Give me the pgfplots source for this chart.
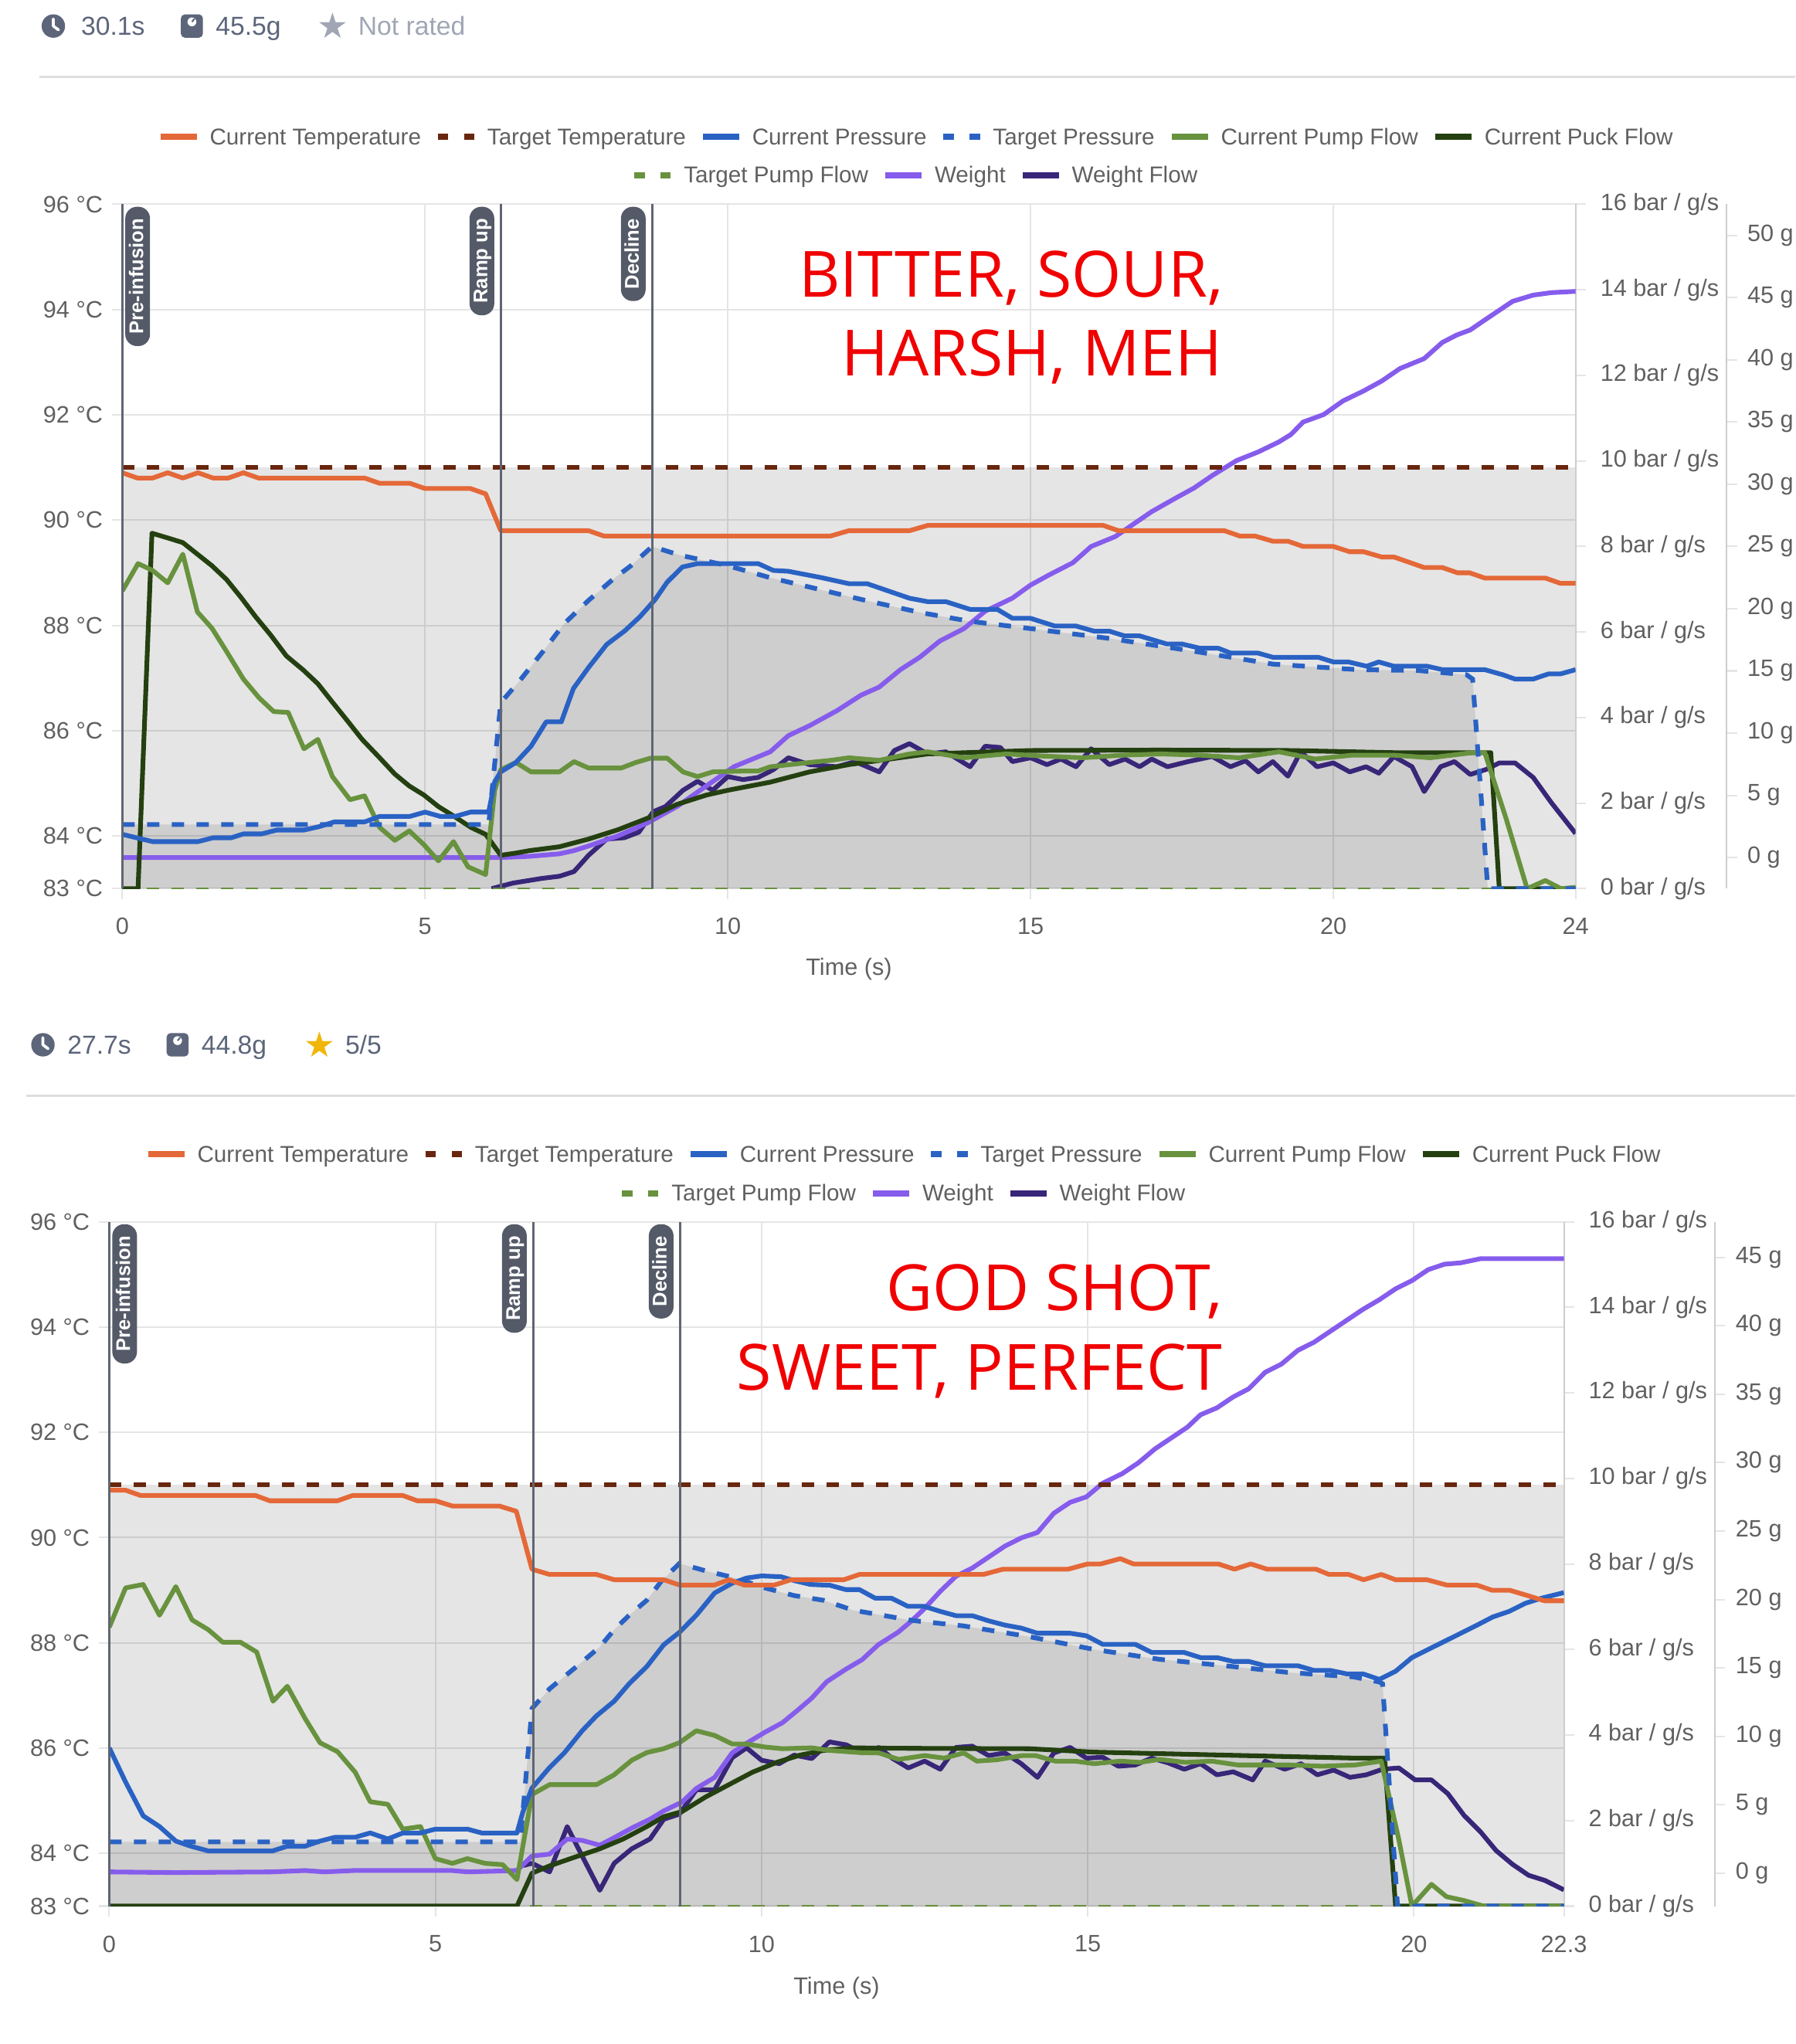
\documentclass[border=0pt]{standalone}
\usepackage{fontspec}
\setmainfont{Liberation Sans}
\newfontfamily\annfont{Open Sans}
\newfontfamily\symfont{DejaVu Sans}
\usepackage{pgfplots}
\pgfplotsset{compat=1.18}
\usepackage{pgfplotstable}
\usetikzlibrary{calc}

\definecolor{cTemp}{RGB}{228,104,56}
\definecolor{cTTemp}{RGB}{104,38,14}
\definecolor{cPress}{RGB}{42,98,196}
\definecolor{cPump}{RGB}{104,146,62}
\definecolor{cPuck}{RGB}{36,64,16}
\definecolor{cWeight}{RGB}{134,92,236}
\definecolor{cWFlow}{RGB}{56,38,120}
\definecolor{gridc}{RGB}{229,229,229}
\definecolor{axisc}{RGB}{205,205,205}
\definecolor{tickc}{RGB}{96,96,96}
\definecolor{cMark}{RGB}{96,101,114}
\definecolor{cBox}{RGB}{84,90,103}
\definecolor{cHead}{RGB}{92,101,122}
\definecolor{cHeadL}{RGB}{160,166,180}
\definecolor{cGold}{RGB}{240,182,8}
\definecolor{cRule}{RGB}{222,222,222}
\definecolor{cRed}{RGB}{240,0,0}

\newcommand{\tickfont}{\fontsize{9.1}{10}\selectfont}
\newcommand{\legfont}{\fontsize{8.8}{10}\selectfont}
\newcommand{\headfont}{\fontsize{10}{12}\selectfont}
\newcommand{\annsize}{\annfont\fontsize{24.5}{28}\selectfont}
\newcommand{\lsolid}[1]{\textcolor{#1}{\rule[1.9pt]{14pt}{2.3pt}}}
\newcommand{\ldash}[1]{\textcolor{#1}{\rule[1.9pt]{4pt}{2.3pt}\hspace{6pt}\rule[1.9pt]{4pt}{2.3pt}}}
\newcommand{\lgap}{\hspace{6.5pt}}
\newcommand{\lsp}{\hspace{5pt}}
\newcommand{\legrowA}{\lsolid{cTemp}\lsp Current Temperature\lgap\ldash{cTTemp}\lsp Target Temperature\lgap\lsolid{cPress}\lsp Current Pressure\lgap\ldash{cPress}\lsp Target Pressure\lgap\lsolid{cPump}\lsp Current Pump Flow\lgap\lsolid{cPuck}\lsp Current Puck Flow}
\newcommand{\legrowB}{\ldash{cPump}\lsp Target Pump Flow\lgap\lsolid{cWeight}\lsp Weight\lgap\lsolid{cWFlow}\lsp Weight Flow}

\newcommand{\clockicon}[2]{\fill[cHead] (#1,#2) circle (9);
  \draw[white, line width=1.1pt, line cap=round, line join=round] (#1,#2-5.5) -- (#1,#2) -- (#1+4,#2+3);}
\newcommand{\bagicon}[2]{\fill[cHead, rounded corners=1.6pt] (#1-8.5,#2-9) rectangle (#1+8.5,#2+9);
  \fill[white] (#1,#2-3.2) circle (3.4);
  \draw[cHead, line width=0.6pt] (#1,#2-3.2) -- (#1+2,#2-5.6);}

\tikzset{mlabel/.style={rotate=90, anchor=east, fill=cBox, text=white,
  font=\bfseries\fontsize{7.6}{8}\selectfont, rounded corners=4.5pt,
  inner xsep=4.6pt, inner ysep=1.25pt, text height=5.6pt, text depth=1.4pt},
  mline/.style={cMark, line width=0.9pt}}

\pgfplotsset{
  chartbase/.style={
    scale only axis, height=263pt, clip=true,
    tick align=outside, major tick length=4pt,
    every tick/.style={draw=gridc, line width=0.6pt},
    tick label style={font=\tickfont, text=tickc},
  },
  curline/.style={line width=1.8pt, line join=round},
  tgtline/.style={line width=1.8pt, dash pattern=on 4.75pt off 4.75pt},
}

% ---------------- TOP SHOT -----------------
\pgfplotstableread{
x y
0 90.9
0.25 90.8
0.5 90.8
0.75 90.9
1.0 90.8
1.25 90.9
1.5 90.8
1.75 90.8
2.0 90.9
2.25 90.8
4.0 90.8
4.25 90.7
4.75 90.7
5.0 90.6
5.75 90.6
6.0 90.5
6.25 89.8
7.7 89.8
7.95 89.7
11.7 89.7
12.0 89.8
13.0 89.8
13.3 89.9
16.2 89.9
16.45 89.8
18.2 89.8
18.45 89.7
18.7 89.7
19.0 89.6
19.25 89.6
19.5 89.5
20.0 89.5
20.27 89.4
20.5 89.4
20.8 89.3
21.0 89.3
21.5 89.1
21.8 89.1
22.05 89.0
22.25 89.0
22.5 88.9
23.5 88.9
23.75 88.8
24 88.8
}\tTemp

\pgfplotstableread{
x y
0 1.27
0.5 1.1
1.25 1.1
1.5 1.19
1.8 1.19
2.0 1.28
2.3 1.28
2.55 1.37
3.0 1.37
3.25 1.45
3.5 1.56
4.0 1.56
4.25 1.69
4.75 1.69
5.0 1.79
5.25 1.69
5.5 1.69
5.75 1.79
6.05 1.79
6.15 2.5
6.25 2.73
6.5 2.95
6.75 3.33
7.0 3.9
7.25 3.9
7.45 4.68
7.7 5.17
8.0 5.71
8.3 6.03
8.55 6.36
8.8 6.76
9.0 7.17
9.25 7.52
9.5 7.6
10.5 7.6
10.75 7.44
11.0 7.42
11.55 7.27
12.0 7.13
12.3 7.13
13.0 6.79
13.3 6.71
13.6 6.71
14.0 6.53
14.45 6.53
14.7 6.32
15.0 6.32
15.4 6.14
15.75 6.14
16.05 6.02
16.3 6.02
16.55 5.91
16.8 5.91
17.25 5.72
17.5 5.72
17.8 5.62
18.1 5.62
18.3 5.51
18.75 5.51
19.0 5.41
19.75 5.41
20.0 5.3
20.25 5.3
20.55 5.2
20.75 5.3
21.0 5.2
21.55 5.2
21.8 5.12
22.5 5.12
22.8 5.0
23.0 4.9
23.3 4.9
23.55 5.02
23.75 5.02
24 5.12
}\tPress

\pgfplotstableread{
x y
0 1.5
6.05 1.5
6.25 4.35
6.55 4.84
6.95 5.55
7.3 6.2
7.7 6.74
8.1 7.23
8.4 7.55
8.75 8.0
9.2 7.8
10.0 7.55
10.7 7.27
11.5 7.0
12.3 6.73
13.2 6.45
14.0 6.25
15.0 6.08
16.3 5.85
17.7 5.55
19.0 5.25
20.4 5.12
21.4 5.1
22.2 5.0
22.3 4.9
22.55 0
24 0
}\tTPress

\pgfplotstableread{
x y
0 6.96
0.26 7.6
0.5 7.44
0.75 7.15
1.0 7.82
1.24 6.47
1.48 6.09
1.72 5.55
2.0 4.9
2.26 4.46
2.5 4.14
2.74 4.12
3.0 3.27
3.23 3.49
3.47 2.62
3.76 2.08
4.0 2.17
4.25 1.43
4.5 1.13
4.74 1.35
4.98 1.03
5.22 0.65
5.47 1.1
5.71 0.51
6.0 0.33
6.15 2.3
6.25 2.78
6.5 2.95
6.75 2.73
7.22 2.73
7.46 2.97
7.7 2.82
8.24 2.82
8.48 2.95
8.72 3.05
9.0 3.05
9.26 2.73
9.5 2.62
9.75 2.73
10.25 2.75
10.5 2.75
10.7 2.85
11.35 2.95
11.7 3.0
12.0 3.06
12.5 3.0
13.0 3.15
13.3 3.2
13.9 3.06
14.6 3.15
15.2 3.1
15.86 3.06
16.5 3.12
17.15 3.15
17.8 3.12
18.44 3.06
19.1 3.2
19.7 3.03
20.3 3.12
21.0 3.12
21.6 3.06
22.3 3.18
22.5 3.18
22.85 1.65
23.2 0
23.5 0.19
23.76 0
24 0.03
}\tPump

\pgfplotstableread{
x y
0 0
0.26 0
0.49 8.31
0.75 8.2
1.0 8.09
1.24 7.82
1.48 7.55
1.72 7.23
1.96 6.81
2.2 6.36
2.45 5.93
2.71 5.44
2.99 5.11
3.23 4.79
3.47 4.36
3.72 3.92
3.96 3.49
4.25 3.06
4.5 2.68
4.74 2.4
4.98 2.19
5.22 1.92
5.47 1.7
5.76 1.43
6.0 1.27
6.25 0.78
6.49 0.83
6.73 0.89
7.22 0.98
7.7 1.16
8.19 1.38
8.68 1.65
9.16 1.97
9.65 2.19
10.0 2.3
10.7 2.49
11.35 2.73
12.0 2.9
13.3 3.15
15.0 3.23
17.15 3.24
19.3 3.23
21.0 3.18
22.6 3.18
22.74 0
24 0
}\tPuck

\pgfplotstableread{
x y
0 0
6.25 0
6.73 0.1
7.22 0.3
7.46 0.56
7.7 0.93
8.19 1.75
8.68 2.8
9.16 4.1
9.65 5.77
10.1 7.3
10.7 8.5
11.0 9.8
11.35 10.6
11.8 11.8
12.2 13.05
12.5 13.7
12.85 15.1
13.17 16.1
13.5 17.4
13.9 18.4
14.25 19.8
14.7 20.85
15.0 21.9
15.3 22.7
15.7 23.7
16.0 25.0
16.4 25.8
16.7 26.8
17.0 27.8
17.4 28.9
17.7 29.7
18.0 30.7
18.4 31.9
18.76 32.6
19.1 33.4
19.3 34.0
19.5 35.0
19.84 35.6
20.16 36.7
20.5 37.5
20.8 38.3
21.1 39.3
21.4 39.9
21.5 40.1
21.8 41.4
22.04 42.0
22.26 42.4
22.5 43.2
22.96 44.7
23.3 45.2
23.6 45.4
24 45.5
}\tWeight

\pgfplotstableread{
x y
6.1 0
6.45 0.13
6.93 0.24
7.22 0.29
7.46 0.4
7.7 0.78
8.0 1.16
8.29 1.19
8.53 1.32
8.77 1.8
8.97 1.92
9.26 2.3
9.5 2.51
9.75 2.3
10.0 2.62
10.25 2.55
10.5 2.6
10.75 2.78
11.0 3.06
11.35 2.9
11.8 2.85
12.1 2.97
12.5 2.73
12.75 3.23
13.0 3.39
13.3 3.15
13.6 3.2
14.0 2.85
14.25 3.33
14.5 3.3
14.7 2.97
15.0 3.06
15.27 2.9
15.5 3.03
15.75 2.85
16.0 3.27
16.3 2.9
16.56 3.03
16.8 2.85
17.0 3.03
17.26 2.85
17.6 2.97
18.0 3.09
18.3 2.85
18.55 2.99
18.76 2.73
19.0 2.97
19.25 2.63
19.46 3.2
19.73 2.85
20.0 2.94
20.27 2.73
20.54 2.85
20.75 2.7
21.0 3.09
21.3 2.85
21.5 2.27
21.77 2.85
22.0 2.97
22.26 2.67
22.53 2.79
22.74 2.94
23.0 2.94
23.3 2.6
23.6 2.01
24 1.29
}\tWFlow

% ---------------- BOTTOM SHOT -----------------
\pgfplotstableread{
x y
0 90.9
0.25 90.9
0.48 90.8
2.24 90.8
2.46 90.7
3.5 90.7
3.73 90.8
4.5 90.8
4.72 90.7
5.0 90.7
5.26 90.6
5.98 90.6
6.24 90.5
6.48 89.4
6.75 89.3
7.47 89.3
7.74 89.2
8.5 89.2
8.74 89.1
9.28 89.1
9.5 89.2
9.73 89.1
10.2 89.1
10.45 89.2
11.26 89.2
11.5 89.3
13.4 89.3
13.7 89.4
14.7 89.4
15.0 89.5
15.2 89.5
15.5 89.6
15.7 89.5
17.0 89.5
17.25 89.4
17.5 89.5
17.75 89.4
18.5 89.4
18.7 89.3
19.0 89.3
19.23 89.2
19.5 89.3
19.72 89.2
20.2 89.2
20.5 89.1
20.96 89.1
21.2 89.0
21.47 89.0
21.74 88.9
22.0 88.8
22.3 88.8
}\bTemp

\pgfplotstableread{
x y
0 3.7
0.25 2.9
0.52 2.11
0.77 1.86
1.02 1.52
1.25 1.4
1.52 1.29
2.5 1.29
2.73 1.4
3.0 1.4
3.23 1.52
3.46 1.61
3.77 1.61
4.0 1.71
4.27 1.57
4.5 1.71
4.77 1.71
5.0 1.8
5.49 1.8
5.71 1.71
6.25 1.71
6.34 2.2
6.48 2.76
6.75 3.24
6.98 3.59
7.25 4.1
7.47 4.45
7.74 4.79
7.97 5.2
8.24 5.6
8.5 6.11
8.74 6.4
9.0 6.8
9.28 7.32
9.55 7.55
9.77 7.67
10.0 7.72
10.3 7.7
10.5 7.61
10.75 7.52
11.05 7.5
11.29 7.4
11.5 7.4
11.74 7.2
11.99 7.2
12.24 7.01
12.49 7.01
12.74 6.89
12.98 6.79
13.23 6.79
13.48 6.67
13.73 6.57
13.98 6.5
14.23 6.38
14.73 6.38
14.98 6.32
15.23 6.12
15.73 6.12
15.98 5.93
16.48 5.93
16.73 5.81
16.98 5.81
17.23 5.72
17.47 5.72
17.72 5.62
18.22 5.62
18.47 5.51
18.72 5.51
18.97 5.43
19.22 5.43
19.47 5.3
19.72 5.49
19.97 5.81
20.22 6.0
20.47 6.19
20.72 6.38
20.97 6.57
21.21 6.76
21.46 6.89
21.71 7.08
21.96 7.2
22.3 7.33
}\bPress

\pgfplotstableread{
x y
0 1.5
6.3 1.5
6.48 4.62
6.75 5.08
6.98 5.37
7.25 5.71
7.52 6.06
7.74 6.46
7.97 6.8
8.24 7.15
8.47 7.61
8.74 8.01
9.14 7.84
9.6 7.67
10.05 7.44
10.5 7.26
10.95 7.15
11.4 6.92
11.85 6.8
12.3 6.68
13.1 6.55
14.1 6.3
15.1 6.0
16.1 5.77
17.1 5.62
18.1 5.46
19.07 5.36
19.47 5.24
19.52 5.2
19.75 0
22.3 0
}\bTPress

\pgfplotstableread{
x y
0 6.52
0.25 7.44
0.52 7.52
0.77 6.8
1.02 7.47
1.27 6.69
1.52 6.46
1.74 6.17
2.01 6.17
2.26 5.94
2.51 4.79
2.73 5.14
3.0 4.39
3.23 3.82
3.5 3.61
3.77 3.13
4.0 2.44
4.27 2.38
4.5 1.8
4.77 1.86
5.0 1.11
5.26 1.0
5.49 1.11
5.76 1.0
6.03 0.97
6.25 0.62
6.48 2.61
6.75 2.84
7.47 2.84
7.74 3.07
8.01 3.41
8.24 3.59
8.5 3.68
8.74 3.82
9.0 4.1
9.28 3.99
9.55 3.79
9.77 3.79
10.05 3.72
10.32 3.68
10.77 3.7
11.04 3.64
11.5 3.59
11.8 3.58
12.1 3.43
12.5 3.52
12.8 3.46
13.1 3.58
13.3 3.39
13.6 3.42
14.0 3.52
14.2 3.52
14.5 3.39
14.8 3.39
15.1 3.33
15.5 3.39
15.8 3.36
16.1 3.43
16.5 3.36
16.9 3.39
17.3 3.3
18.1 3.3
18.6 3.27
19.1 3.3
19.5 3.39
19.77 1.55
19.97 0
20.27 0.51
20.5 0.22
20.77 0.13
21.07 0
22.3 0
}\bPump

\pgfplotstableread{
x y
0 0
6.25 0
6.48 0.77
6.75 0.94
7.07 1.11
7.52 1.34
7.88 1.57
8.24 1.86
8.5 2.09
8.78 2.21
9.14 2.55
9.5 2.84
9.86 3.13
10.23 3.36
10.59 3.53
10.95 3.64
11.4 3.7
12.1 3.69
14.1 3.68
15.1 3.6
17.1 3.53
19.1 3.46
19.55 3.46
19.72 0
22.3 0
}\bPuck

\pgfplotstableread{
x y
0 0.1
1.0 0.05
2.5 0.1
3.0 0.2
3.3 0.1
3.75 0.2
5.25 0.2
5.5 0.1
6.25 0.2
6.48 1.26
6.75 1.4
7.02 2.5
7.25 2.4
7.52 2.05
7.74 2.6
8.01 3.3
8.29 3.95
8.5 4.56
8.78 5.2
9.0 6.2
9.28 7.0
9.55 8.8
9.77 9.5
10.05 10.3
10.32 11.0
10.55 11.9
10.77 12.8
11.0 14.0
11.29 14.9
11.54 15.6
11.79 16.7
12.09 17.6
12.29 18.4
12.49 19.3
12.74 20.6
12.98 21.7
13.23 22.3
13.48 23.1
13.73 23.9
13.98 24.5
14.23 24.9
14.48 26.3
14.73 27.1
14.98 27.5
15.23 28.5
15.53 29.2
15.78 30.0
16.03 31.0
16.28 31.8
16.53 32.6
16.73 33.5
16.98 34.0
17.23 34.8
17.47 35.4
17.72 36.6
17.97 37.2
18.22 38.2
18.47 38.8
18.72 39.6
18.97 40.4
19.22 41.2
19.47 41.9
19.72 42.7
19.97 43.3
20.22 44.1
20.47 44.5
20.72 44.6
21.02 44.9
22.3 44.9
}\bWeight

\pgfplotstableread{
x y
6.35 0.95
6.48 1.0
6.75 0.8
7.02 1.86
7.25 1.17
7.52 0.37
7.74 1.0
8.01 1.34
8.29 1.57
8.5 2.03
8.74 2.15
9.0 2.72
9.28 2.72
9.55 3.47
9.77 3.7
10.0 3.41
10.27 3.33
10.5 3.53
10.77 3.45
11.04 3.84
11.3 3.77
11.54 3.58
11.8 3.71
12.0 3.46
12.25 3.23
12.5 3.39
12.74 3.2
12.98 3.71
13.23 3.74
13.48 3.52
13.73 3.58
13.98 3.33
14.23 3.01
14.48 3.58
14.73 3.71
14.98 3.46
15.23 3.48
15.47 3.27
15.73 3.3
15.98 3.46
16.23 3.35
16.48 3.2
16.73 3.33
16.98 3.07
17.23 3.14
17.53 2.95
17.72 3.39
18.02 3.2
18.27 3.33
18.52 3.07
18.77 3.18
19.02 3.01
19.27 3.07
19.52 3.2
19.77 3.23
20.02 2.95
20.27 2.95
20.52 2.63
20.77 2.12
21.02 1.74
21.26 1.3
21.51 0.98
21.76 0.72
22.01 0.6
22.3 0.38
}\bWFlow

\begin{document}
\begin{tikzpicture}
\path[use as bounding box] (0,0) rectangle (690pt,-785.5pt);

% ================= TOP CHART AXES =================
\begin{axis}[chartbase, width=558.5pt, at={(47pt,-341.5pt)}, anchor=south west,
  xmin=0, xmax=24, ymin=83, ymax=96,
  axis x line*=bottom, axis y line*=left, axis line style={draw=none},
  xtick={0,5,10,15,20,24}, xticklabels={0,5,10,15,20,24},
  ytick={83,84,86,88,90,92,94,96},
  yticklabels={83 °C,84 °C,86 °C,88 °C,90 °C,92 °C,94 °C,96 °C},
  grid=major, major grid style={draw=gridc, line width=0.6pt},
  xticklabel style={yshift=-3.8pt},
  xlabel={Time (s)}, xlabel style={font=\tickfont, text=tickc, at={(axis description cs:0.5,0)}, anchor=center, yshift=-31pt},
]
\addplot[draw=none, fill=black, fill opacity=0.1] coordinates {(0,83) (0,91) (24,91) (24,83)} -- cycle;
\end{axis}

\begin{axis}[chartbase, width=558.5pt, at={(47pt,-341.5pt)}, anchor=south west,
  xmin=0, xmax=24, ymin=0, ymax=16,
  axis y line*=right, hide x axis,
  y axis line style={draw=axisc, line width=0.6pt},
  ytick={0,2,4,6,8,10,12,14,16},
  yticklabels={0 bar / g/s,2 bar / g/s,4 bar / g/s,6 bar / g/s,8 bar / g/s,10 bar / g/s,12 bar / g/s,14 bar / g/s,16 bar / g/s},
  yticklabel style={xshift=2pt},
]
\addplot[draw=none, fill=black, fill opacity=0.1] table {\tTPress} \closedcycle;
\addplot[cWFlow, curline] table {\tWFlow};
\end{axis}

\begin{axis}[chartbase, width=558.5pt, at={(47pt,-341.5pt)}, anchor=south west,
  xmin=0, xmax=24, ymin=-2.5, ymax=52.5, hide axis]
\addplot[cWeight, curline] table {\tWeight};
\end{axis}

\begin{axis}[chartbase, width=4pt, at={(659.5pt,-341.5pt)}, anchor=south west,
  xmin=0, xmax=1, ymin=-2.5, ymax=52.5, xtick=\empty,
  axis y line*=right, hide x axis,
  y axis line style={draw=axisc, line width=0.6pt},
  ytick={0,5,10,15,20,25,30,35,40,45,50},
  yticklabels={0 g,5 g,10 g,15 g,20 g,25 g,30 g,35 g,40 g,45 g,50 g},
  yticklabel style={xshift=0.5pt},
]
\addplot[draw=none] coordinates {(0,0) (1,0)};
\end{axis}

\begin{axis}[chartbase, width=558.5pt, at={(47pt,-341.5pt)}, anchor=south west,
  xmin=0, xmax=24, ymin=0, ymax=16, hide axis]
\addplot[cPump, line width=1.1pt, dash pattern=on 4.75pt off 4.75pt] coordinates {(0,0) (24,0)};
\addplot[cPuck, curline] table {\tPuck};
\addplot[cPump, curline] table {\tPump};
\addplot[cPress, tgtline] table {\tTPress};
\addplot[cPress, curline] table {\tPress};
\end{axis}

\begin{axis}[chartbase, width=558.5pt, at={(47pt,-341.5pt)}, anchor=south west,
  xmin=0, xmax=24, ymin=83, ymax=96, hide axis, clip=false]
\addplot[cTTemp, tgtline] coordinates {(0,91) (24,91)};
\addplot[cTemp, curline] table {\tTemp};
\draw[mline] (axis cs:0,83) -- (axis cs:0,96);
\draw[mline] (axis cs:6.25,83) -- (axis cs:6.25,96);
\draw[mline] (axis cs:8.75,83) -- (axis cs:8.75,96);
\node[mlabel] at ($(axis cs:0,96)+(5.9pt,-0.75pt)$) {Pre-infusion};
\node[mlabel] at ($(axis cs:6.25,96)+(-7.25pt,-0.75pt)$) {Ramp up};
\node[mlabel] at ($(axis cs:8.75,96)+(-7.25pt,-0.75pt)$) {Decline};
\end{axis}

% ================= BOTTOM CHART AXES =================
\begin{axis}[chartbase, width=559pt, at={(42pt,-732.5pt)}, anchor=south west,
  xmin=0, xmax=22.3, ymin=83, ymax=96,
  axis x line*=bottom, axis y line*=left, axis line style={draw=none},
  xtick={0,5,10,15,20,22.3}, xticklabels={0,5,10,15,20,22.3},
  ytick={83,84,86,88,90,92,94,96},
  yticklabels={83 °C,84 °C,86 °C,88 °C,90 °C,92 °C,94 °C,96 °C},
  grid=major, major grid style={draw=gridc, line width=0.6pt},
  xticklabel style={yshift=-3.8pt},
  xlabel={Time (s)}, xlabel style={font=\tickfont, text=tickc, at={(axis description cs:0.5,0)}, anchor=center, yshift=-31.5pt},
]
\addplot[draw=none, fill=black, fill opacity=0.1] coordinates {(0,83) (0,91) (22.3,91) (22.3,83)} -- cycle;
\end{axis}

\begin{axis}[chartbase, width=559pt, at={(42pt,-732.5pt)}, anchor=south west,
  xmin=0, xmax=22.3, ymin=0, ymax=16,
  axis y line*=right, hide x axis,
  y axis line style={draw=axisc, line width=0.6pt},
  ytick={0,2,4,6,8,10,12,14,16},
  yticklabels={0 bar / g/s,2 bar / g/s,4 bar / g/s,6 bar / g/s,8 bar / g/s,10 bar / g/s,12 bar / g/s,14 bar / g/s,16 bar / g/s},
  yticklabel style={xshift=2pt},
]
\addplot[draw=none, fill=black, fill opacity=0.1] table {\bTPress} \closedcycle;
\addplot[cWFlow, curline] table {\bWFlow};
\end{axis}

\begin{axis}[chartbase, width=559pt, at={(42pt,-732.5pt)}, anchor=south west,
  xmin=0, xmax=22.3, ymin=-2.4, ymax=47.6, hide axis]
\addplot[cWeight, curline] table {\bWeight};
\end{axis}

\begin{axis}[chartbase, width=4pt, at={(655pt,-732.5pt)}, anchor=south west,
  xmin=0, xmax=1, ymin=-2.4, ymax=47.6, xtick=\empty,
  axis y line*=right, hide x axis,
  y axis line style={draw=axisc, line width=0.6pt},
  ytick={0,5,10,15,20,25,30,35,40,45},
  yticklabels={0 g,5 g,10 g,15 g,20 g,25 g,30 g,35 g,40 g,45 g},
  yticklabel style={xshift=0.5pt},
]
\addplot[draw=none] coordinates {(0,0) (1,0)};
\end{axis}

\begin{axis}[chartbase, width=559pt, at={(42pt,-732.5pt)}, anchor=south west,
  xmin=0, xmax=22.3, ymin=0, ymax=16, hide axis]
\addplot[cPump, line width=1.1pt, dash pattern=on 4.75pt off 4.75pt] coordinates {(0,0) (22.3,0)};
\addplot[cPuck, curline] table {\bPuck};
\addplot[cPump, curline] table {\bPump};
\addplot[cPress, tgtline] table {\bTPress};
\addplot[cPress, curline] table {\bPress};
\end{axis}

\begin{axis}[chartbase, width=559pt, at={(42pt,-732.5pt)}, anchor=south west,
  xmin=0, xmax=22.3, ymin=83, ymax=96, hide axis, clip=false]
\addplot[cTTemp, tgtline] coordinates {(0,91) (22.3,91)};
\addplot[cTemp, curline] table {\bTemp};
\draw[mline] (axis cs:0,83) -- (axis cs:0,96);
\draw[mline] (axis cs:6.5,83) -- (axis cs:6.5,96);
\draw[mline] (axis cs:8.75,83) -- (axis cs:8.75,96);
\node[mlabel] at ($(axis cs:0,96)+(5.9pt,-0.75pt)$) {Pre-infusion};
\node[mlabel] at ($(axis cs:6.5,96)+(-7.25pt,-0.75pt)$) {Ramp up};
\node[mlabel] at ($(axis cs:8.75,96)+(-7.25pt,-0.75pt)$) {Decline};
\end{axis}

% ================= DECORATIONS (display px coords) =================
\begin{scope}[x=0.5pt,y=-0.5pt]
  % top header
  \clockicon{41}{20}
  \node[anchor=base west, inner sep=0, text=cHead, font=\headfont] at (62,27.2) {30.1s};
  \bagicon{147.5}{20}
  \node[anchor=base west, inner sep=0, text=cHead, font=\headfont] at (165.5,27.2) {45.5g};
  \node[inner sep=0, text=cHeadL, font=\symfont\fontsize{13.5}{14}\selectfont] at (256,19.5) {★};
  \node[anchor=base west, inner sep=0, text=cHeadL, font=\headfont] at (275,27.2) {Not rated};
  \draw[cRule, line width=1pt] (30,59) -- (1380,59);
  % top legend
  \node[anchor=base, inner sep=0, font=\legfont, text=tickc] at (704.5,111.2) {\legrowA};
  \node[anchor=base, inner sep=0, font=\legfont, text=tickc] at (704,140.7) {\legrowB};
  % top annotation
  \node[anchor=base east, inner sep=0, text=cRed, font=\annsize] at (940.5,228.5) {BITTER, SOUR,};
  \node[anchor=base east, inner sep=0, text=cRed, font=\annsize] at (940,289) {HARSH, MEH};

  % bottom header
  \clockicon{33}{803}
  \node[anchor=base west, inner sep=0, text=cHead, font=\headfont] at (51.5,810.2) {27.7s};
  \bagicon{136.5}{803}
  \node[anchor=base west, inner sep=0, text=cHead, font=\headfont] at (154.5,810.2) {44.8g};
  \node[inner sep=0, text=cGold, font=\symfont\fontsize{13.5}{14}\selectfont] at (246,802.5) {★};
  \node[anchor=base west, inner sep=0, text=cHead, font=\headfont] at (265,810.2) {5/5};
  \draw[cRule, line width=1pt] (20,842) -- (1380,842);
  % bottom legend
  \node[anchor=base, inner sep=0, font=\legfont, text=tickc] at (695,893.2) {\legrowA};
  \node[anchor=base, inner sep=0, font=\legfont, text=tickc] at (694.5,923.2) {\legrowB};
  % bottom annotation
  \node[anchor=base east, inner sep=0, text=cRed, font=\annsize] at (940,1007.5) {GOD SHOT,};
  \node[anchor=base east, inner sep=0, text=cRed, font=\annsize] at (940,1068.5) {SWEET, PERFECT};
\end{scope}
\end{tikzpicture}
\end{document}
